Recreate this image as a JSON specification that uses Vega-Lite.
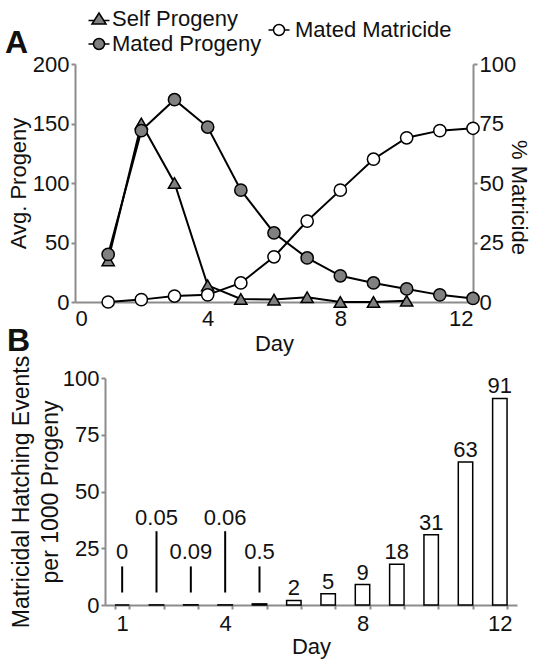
{
  "$schema": "https://vega.github.io/schema/vega-lite/v6.json",
  "padding": {"left": 5, "top": 8, "right": 5, "bottom": 5},
  "background": "white",
  "datasets": {
    "panelA": [
      {"day": 1, "series": "Self Progeny", "value": 35},
      {"day": 2, "series": "Self Progeny", "value": 150},
      {"day": 3, "series": "Self Progeny", "value": 100},
      {"day": 4, "series": "Self Progeny", "value": 14},
      {"day": 5, "series": "Self Progeny", "value": 2.5},
      {"day": 6, "series": "Self Progeny", "value": 2},
      {"day": 7, "series": "Self Progeny", "value": 4},
      {"day": 8, "series": "Self Progeny", "value": 0},
      {"day": 9, "series": "Self Progeny", "value": 0},
      {"day": 10, "series": "Self Progeny", "value": 1},
      {"day": 1, "series": "Mated Progeny", "value": 40},
      {"day": 2, "series": "Mated Progeny", "value": 144},
      {"day": 3, "series": "Mated Progeny", "value": 170},
      {"day": 4, "series": "Mated Progeny", "value": 147},
      {"day": 5, "series": "Mated Progeny", "value": 94},
      {"day": 6, "series": "Mated Progeny", "value": 58},
      {"day": 7, "series": "Mated Progeny", "value": 37},
      {"day": 8, "series": "Mated Progeny", "value": 22},
      {"day": 9, "series": "Mated Progeny", "value": 16},
      {"day": 10, "series": "Mated Progeny", "value": 11},
      {"day": 11, "series": "Mated Progeny", "value": 6},
      {"day": 12, "series": "Mated Progeny", "value": 3},
      {"day": 1, "series": "Mated Matricide", "value": 0},
      {"day": 2, "series": "Mated Matricide", "value": 1},
      {"day": 3, "series": "Mated Matricide", "value": 2.5},
      {"day": 4, "series": "Mated Matricide", "value": 3},
      {"day": 5, "series": "Mated Matricide", "value": 8},
      {"day": 6, "series": "Mated Matricide", "value": 19},
      {"day": 7, "series": "Mated Matricide", "value": 34},
      {"day": 8, "series": "Mated Matricide", "value": 47},
      {"day": 9, "series": "Mated Matricide", "value": 60},
      {"day": 10, "series": "Mated Matricide", "value": 69},
      {"day": 11, "series": "Mated Matricide", "value": 72},
      {"day": 12, "series": "Mated Matricide", "value": 73}
    ],
    "panelB": [
      {"day": 1, "rate": 0},
      {"day": 2, "rate": 0.05},
      {"day": 3, "rate": 0.09},
      {"day": 4, "rate": 0.06},
      {"day": 5, "rate": 0.5},
      {"day": 6, "rate": 2},
      {"day": 7, "rate": 5},
      {"day": 8, "rate": 9},
      {"day": 9, "rate": 18},
      {"day": 10, "rate": 31},
      {"day": 11, "rate": 63},
      {"day": 12, "rate": 91}
    ]
  },
  "bounds": "flush",
  "spacing": 76,
  "vconcat": [
    {
      "width": 398,
      "height": 238,
      "title": {"text": "A", "anchor": "start", "frame": "group", "fontSize": 32, "fontWeight": "bold", "font": "Liberation Sans", "color": "#111", "dx": -70, "dy": 52, "offset": 0},
      "layer": [
        {
          "data": {"name": "panelA"},
          "transform": [{"filter": "datum.series != 'Mated Matricide'"}],
          "encoding": {
            "x": {"field": "day", "type": "quantitative", "scale": {"domain": [0, 12], "nice": false}, "axis": {"values": [0, 4, 8, 12], "title": "Day", "ticks": false, "labelPadding": 6, "titlePadding": 4}},
            "y": {"field": "value", "type": "quantitative", "scale": {"domain": [0, 200], "nice": false}, "axis": {"orient": "left", "values": [0, 50, 100, 150, 200], "title": "Avg. Progeny", "titlePadding": 2}}
          },
          "layer": [
            {"mark": {"type": "line", "color": "black", "strokeWidth": 2}, "encoding": {"detail": {"field": "series"}}},
            {
              "transform": [{"filter": "datum.series == 'Self Progeny'"}],
              "mark": {"type": "point", "shape": "triangle-up", "filled": true, "opacity": 1, "stroke": "black", "strokeWidth": 1.5, "size": 150},
              "encoding": {
                "fill": {"field": "series", "type": "nominal", "scale": {"domain": ["Self Progeny", "Mated Progeny"], "range": ["#808080", "#808080"]},
                  "legend": {"orient": "none", "legendX": 13, "legendY": -56, "title": null, "padding": 0, "rowPadding": 3, "symbolSize": 100, "symbolStrokeColor": "black", "symbolStrokeWidth": 1.5, "labelOffset": 2, "labelFontSize": 22, "labelFont": "Liberation Sans", "labelColor": "#111",
                    "symbolType": {"expr": "datum.value == 'Self Progeny' ? 'M-2.1,0.3H-0.95M0.95,0.3H2.1M0,-1.2L1.4,1L-1.4,1Z' : 'M-2.1,0H-1.1M1.1,0H2.1M-1.1,0A1.1,1.1,0,1,1,1.1,0A1.1,1.1,0,1,1,-1.1,0Z'"}}}
              }
            },
            {
              "transform": [{"filter": "datum.series == 'Mated Progeny'"}],
              "mark": {"type": "point", "shape": "circle", "filled": true, "opacity": 1, "stroke": "black", "strokeWidth": 1.5, "size": 150},
              "encoding": {
                "fill": {"field": "series", "type": "nominal"}
              }
            }
          ]
        },
        {
          "data": {"name": "panelA"},
          "transform": [{"filter": "datum.series == 'Mated Matricide'"}],
          "encoding": {
            "x": {"field": "day", "type": "quantitative", "scale": {"domain": [0, 12], "nice": false}},
            "y": {"field": "value", "type": "quantitative", "scale": {"domain": [0, 100], "nice": false}, "axis": {"orient": "right", "values": [0, 25, 50, 75, 100], "title": "% Matricide", "titlePadding": -9, "titleY": 133}}
          },
          "layer": [
            {"mark": {"type": "line", "color": "black", "strokeWidth": 2}, "encoding": {}},
            {
              "mark": {"type": "point", "shape": "circle", "filled": true, "opacity": 1, "stroke": "black", "strokeWidth": 1.5, "size": 150},
              "encoding": {
                "fill": {"field": "series", "type": "nominal", "scale": {"domain": ["Mated Matricide"], "range": ["white"]},
                  "legend": {"orient": "none", "legendX": 193, "legendY": -45, "title": null, "padding": 0, "symbolSize": 100, "symbolStrokeColor": "black", "symbolStrokeWidth": 1.5, "labelOffset": 5, "labelFontSize": 22, "labelFont": "Liberation Sans", "labelColor": "#111",
                    "symbolType": "M-2.1,0H-1.1M1.1,0H2.1M-1.1,0A1.1,1.1,0,1,1,1.1,0A1.1,1.1,0,1,1,-1.1,0Z"}}
              }
            }
          ]
        }
      ],
      "resolve": {"scale": {"y": "independent", "fill": "independent"}, "legend": {"fill": "independent"}}
    },
    {
      "width": 442,
      "height": 227,
      "title": {"text": "B", "anchor": "start", "frame": "group", "fontSize": 32, "fontWeight": "bold", "font": "Liberation Sans", "color": "#111", "dx": -68, "offset": -3},
      "data": {"name": "panelB"},
      "encoding": {
        "x": {"field": "day", "type": "ordinal", "scale": {"range": [30, 442], "paddingInner": 0.58, "paddingOuter": 0.29},
          "axis": {"title": "Day", "labelAngle": 0, "tickBand": "extent", "labelPadding": 4, "titlePadding": 2, "labelExpr": "indexof([1,4,8,12], datum.value) >= 0 ? datum.label : ''"}}
      },
      "layer": [
        {
          "mark": {"type": "bar", "fill": "white", "stroke": "black", "strokeWidth": 1.5},
          "encoding": {
            "y": {"field": "rate", "type": "quantitative", "scale": {"domain": [0, 100], "nice": false},
              "axis": {"values": [0, 25, 50, 75, 100], "offset": -30, "title": ["Matricidal Hatching Events", "per 1000 Progeny"], "titleFontSize": 23, "titleLineHeight": 29, "titlePadding": 0}}
          }
        },
        {
          "transform": [{"filter": "datum.day >= 6"}],
          "mark": {"type": "text", "fontSize": 22, "font": "Liberation Sans", "color": "#111", "baseline": "alphabetic", "dy": -5},
          "encoding": {
            "y": {"field": "rate", "type": "quantitative"},
            "text": {"field": "rate", "type": "quantitative"}
          }
        },
        {
          "transform": [{"filter": "datum.day <= 5 && datum.day % 2 == 1"}],
          "mark": {"type": "rule", "color": "black", "strokeWidth": 2},
          "encoding": {"y": {"datum": 5.5, "type": "quantitative"}, "y2": {"datum": 17}}
        },
        {
          "transform": [{"filter": "datum.day <= 5 && datum.day % 2 == 0"}],
          "mark": {"type": "rule", "color": "black", "strokeWidth": 2},
          "encoding": {"y": {"datum": 5.5, "type": "quantitative"}, "y2": {"datum": 32.5}}
        },
        {
          "transform": [{"filter": "datum.day <= 5 && datum.day % 2 == 1"}],
          "mark": {"type": "text", "fontSize": 22, "font": "Liberation Sans", "color": "#111", "baseline": "middle"},
          "encoding": {"y": {"datum": 23.5, "type": "quantitative"}, "text": {"field": "rate", "type": "quantitative"}}
        },
        {
          "transform": [{"filter": "datum.day <= 5 && datum.day % 2 == 0"}],
          "mark": {"type": "text", "fontSize": 22, "font": "Liberation Sans", "color": "#111", "baseline": "middle"},
          "encoding": {"y": {"datum": 38.3, "type": "quantitative"}, "text": {"field": "rate", "type": "quantitative"}}
        }
      ]
    }
  ],
  "config": {
    "view": {"stroke": null},
    "font": "Liberation Sans",
    "axis": {
      "domainColor": "#8c8c8c", "domainWidth": 2, "tickColor": "#8c8c8c", "tickWidth": 2, "tickSize": 4,
      "labelFont": "Liberation Sans", "labelFontSize": 22, "labelColor": "#111", "labelPadding": 2,
      "titleFont": "Liberation Sans", "titleFontSize": 22, "titleFontWeight": "normal", "titleColor": "#111", "grid": false
    }
  }
}
